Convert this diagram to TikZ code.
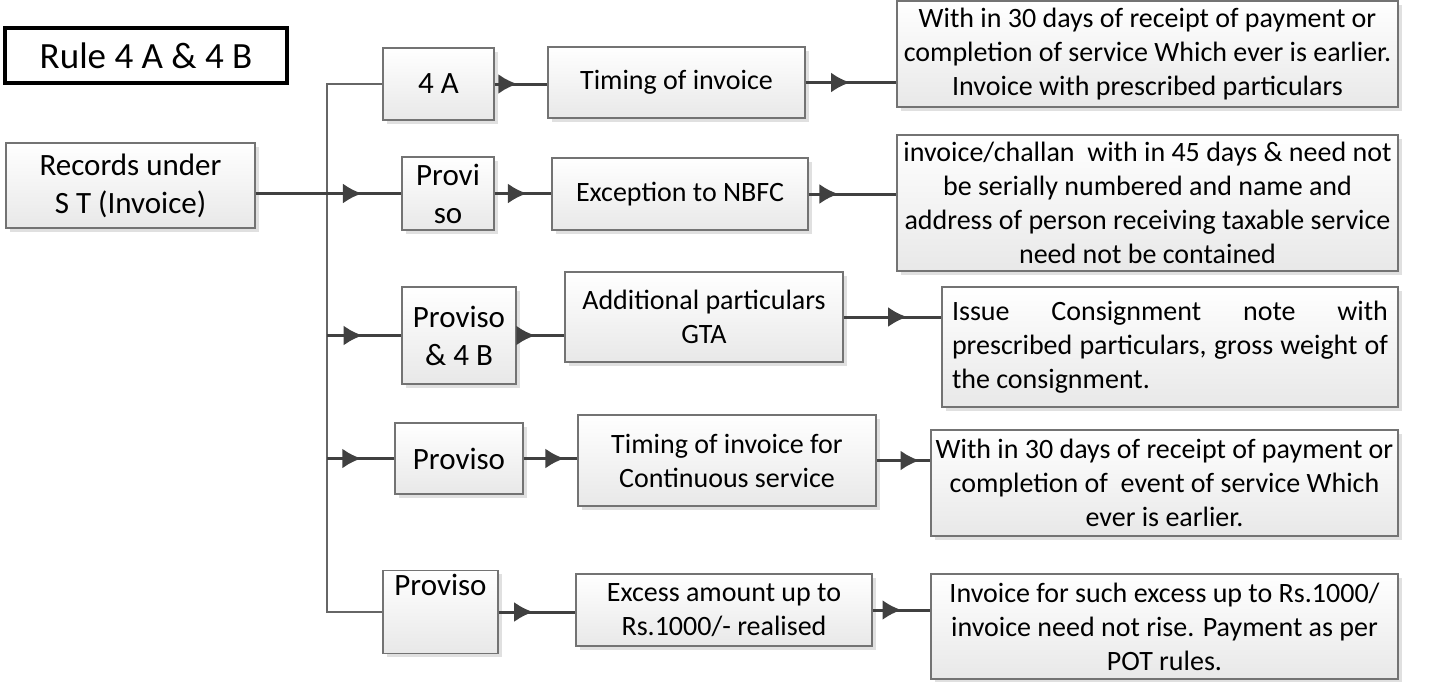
\documentclass[tikz,border=0pt]{standalone}
\usepackage{fontspec}
\setmainfont{Carlito}
\usetikzlibrary{arrows.meta,shadows,decorations.markings}

\begin{document}
\begin{tikzpicture}[x=0.5pt, y=-0.5pt,
    main/.style = {draw=black!55, line width=0.7pt, top color=white, bottom color=black!9,
        drop shadow={shadow xshift=1.8pt, shadow yshift=-1.8pt, fill=black!30, opacity=0.4},
        align=center, inner sep=2pt, font=\fontsize{14}{17}\selectfont},
    big/.style = {font=\fontsize{15.5}{19}\selectfont},
    heading/.style = {draw=black, line width=1.6pt, fill=white, font=\fontsize{18.5}{22}\selectfont},
    dims/.style 2 args = {minimum width=#1*0.5pt, minimum height=#2*0.5pt},
    wire/.style = {draw=black!60, line width=0.75pt},
    link/.style = {draw=black!75, line width=1.5pt, postaction={decorate},
        decoration={markings, mark=at position #1 with {\arrow{Latex[length=9.5pt,width=10pt]}}}},
    link/.default = 0.5]
    \useasboundingbox (0,0) rectangle (1447,681);

    \node[heading, dims={282}{55}] (rule) at (146,55.5) {Rule 4 A \& 4 B};
    \node[main, big, dims={249}{85}] (rec) at (130.5,185.5) {Records under\\S T (Invoice)};

    \node[main, big, dims={111}{72}] (fourA) at (438.5,84) {4 A};
    \node[main, big, dims={92}{73}] (provA) at (448,193.5) {Provi\\so};
    \node[main, big, dims={114}{97}] (provB) at (459,335.5) {Proviso\\\& 4 B};
    \node[main, big, dims={128}{71}] (provC) at (459,458.5) {Proviso};
    \node[main, big, dims={115}{72}] (provD) at (440.5,612) {Proviso\\[2pt]\strut};

    \node[main, dims={257}{71}] (timA) at (676.5,82.5) {Timing of invoice};
    \node[main, dims={256}{72}] (exc) at (680,194) {Exception to NBFC};
    \node[main, dims={278}{90}] (gta) at (704,317) {Additional particulars\\GTA};
    \node[main, dims={298}{91}] (timB) at (727,460.5) {Timing of invoice for\\Continuous service};
    \node[main, dims={296}{72}] (excess) at (724,610) {Excess amount up to\\Rs.1000/- realised};

    \node[main, dims={501}{106}] (resA) at (1147.5,54) {With in 30 days of receipt of payment or\\completion of service Which ever is earlier.\\Invoice with prescribed particulars};
    \node[main, dims={501}{136}] (resB) at (1147.5,203) {invoice/challan\ \ with in 45 days \& need not\\be serially numbered and name and\\address of person receiving taxable service\\need not be contained};
    \node[main, dims={456}{120}, align=justify, text width=218pt] (resC) at (1170,347) {Issue Consignment note with\linebreak prescribed particulars, gross weight of\linebreak the consignment.};
    \node[main, dims={467}{106}] (resD) at (1164.5,483) {With in 30 days of receipt of payment or\\completion of\ \ event of service Which\\ever is earlier.};
    \node[main, dims={467}{105}] (resE) at (1164.5,626.5) {Invoice for such excess up to Rs.1000/\\invoice need not rise. Payment as per\\POT rules.};

    \coordinate (trunk) at (327,196);
    \draw[wire] (fourA.west) -| (trunk) |- (provD.west);

    \path[link=0.73] (rec.east |- provA.west) -- (provA.west);
    \path[link=0.48] (trunk |- provB.west) -- (provB.west);
    \path[link=0.51] (trunk |- provC.west) -- (provC.west);

    \path[link=0.43] (fourA.east) -- (fourA.east -| timA.west);
    \path[link=0.57] (provA.east) -- (provA.east -| exc.west);
    \path[link=0.39] (provB.east) -- (provB.east -| gta.west);
    \path[link=0.76] (provC.east) -- (provC.east -| timB.west);
    \path[link=0.45] (provD.east) -- (provD.east -| excess.west);

    \path[link=0.49] (timA.east) -- (timA.east -| resA.west);
    \path[link=0.34] (exc.east) -- (exc.east -| resB.west);
    \path[link=0.65] (gta.east) -- (gta.east -| resC.west);
    \path[link=0.8] (timB.east) -- (timB.east -| resD.west);
    \path[link=0.5] (excess.east) -- (excess.east -| resE.west);
\end{tikzpicture}
\end{document}
